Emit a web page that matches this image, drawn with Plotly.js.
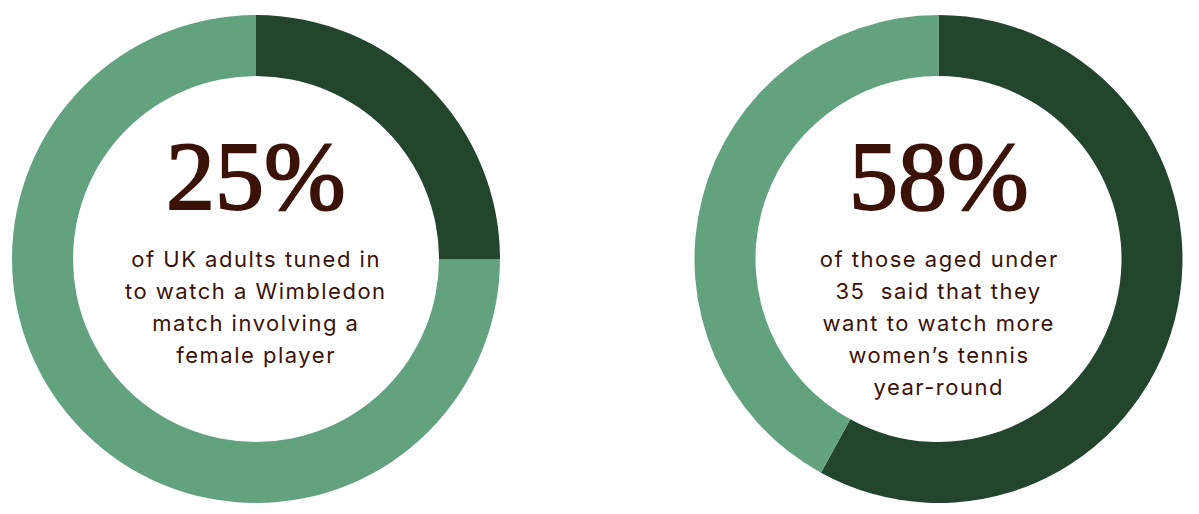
<!DOCTYPE html>
<html>
<head>
<meta charset="utf-8">
<script src="https://cdn.plot.ly/plotly-3.0.1.min.js"></script>
<style>
  html, body { margin:0; padding:0; background:#fff; }
  #chart { width:1199px; height:514px; }
  /* captions in the reference are set loose; big numbers a touch heavier */
  #chart text.annotation-text[style*="font-size: 22px"] { letter-spacing: 1.5px; }
  #chart text.annotation-text[style*="font-size: 98px"] { stroke: #3b1207; stroke-width: 2px; }
</style>
</head>
<body>
<div id="chart"></div>
<script>
// share of respondents for each ring (dark slice), rest is light
const shares = [25, 58];
const bigLabels = ['25%', '58%'];
const captionLines = [
  ['of UK adults tuned in', 'to watch a Wimbledon', 'match involving a', 'female player'],
  ['of those aged under', '35  said that they', 'want to watch more', 'women\u2019s tennis', 'year-round']
];

const W = 1199, H = 514;
const DARK = '#24452d', LIGHT = '#63a27f', INK = '#3b1207';

// ring boxes in pixels (left, right)
const boxes = [
  { x0: 12,  x1: 500 },
  { x0: 694, x1: 1183 }
];
const ringTop = 15, ringBottom = 503;

const data = shares.map((v, i) => ({
  type: 'pie',
  values: [v, 100 - v],
  labels: ['yes', 'rest'],
  sort: false,
  direction: 'clockwise',
  rotation: 0,
  hole: 0.75,
  textinfo: 'none',
  hoverinfo: 'none',
  showlegend: false,
  marker: { colors: [DARK, LIGHT], line: { width: 0 } },
  domain: {
    x: [boxes[i].x0 / W, boxes[i].x1 / W],
    y: [(H - ringBottom) / H, (H - ringTop) / H]
  }
}));

const annotations = [];
shares.forEach((v, i) => {
  const cx = (boxes[i].x0 + boxes[i].x1) / 2 / W;
  annotations.push({
    text: bigLabels[i],
    x: cx, y: 1 - 176 / H,
    xref: 'paper', yref: 'paper',
    xanchor: 'center', yanchor: 'middle',
    showarrow: false,
    font: { family: 'Liberation Serif, serif', size: 98, color: INK }
  });
  captionLines[i].forEach((line, k) => {
    annotations.push({
      text: line,
      x: cx, y: 1 - (259 + k * 32) / H,
      xref: 'paper', yref: 'paper',
      xanchor: 'center', yanchor: 'middle',
      showarrow: false,
      font: { family: 'Inter, sans-serif', size: 22, color: INK }
    });
  });
});

const layout = {
  width: W, height: H,
  margin: { l: 0, r: 0, t: 0, b: 0 },
  paper_bgcolor: '#fff',
  plot_bgcolor: '#fff',
  annotations: annotations
};

Plotly.newPlot('chart', data, layout, { displayModeBar: false, staticPlot: true });
</script>
</body>
</html>
